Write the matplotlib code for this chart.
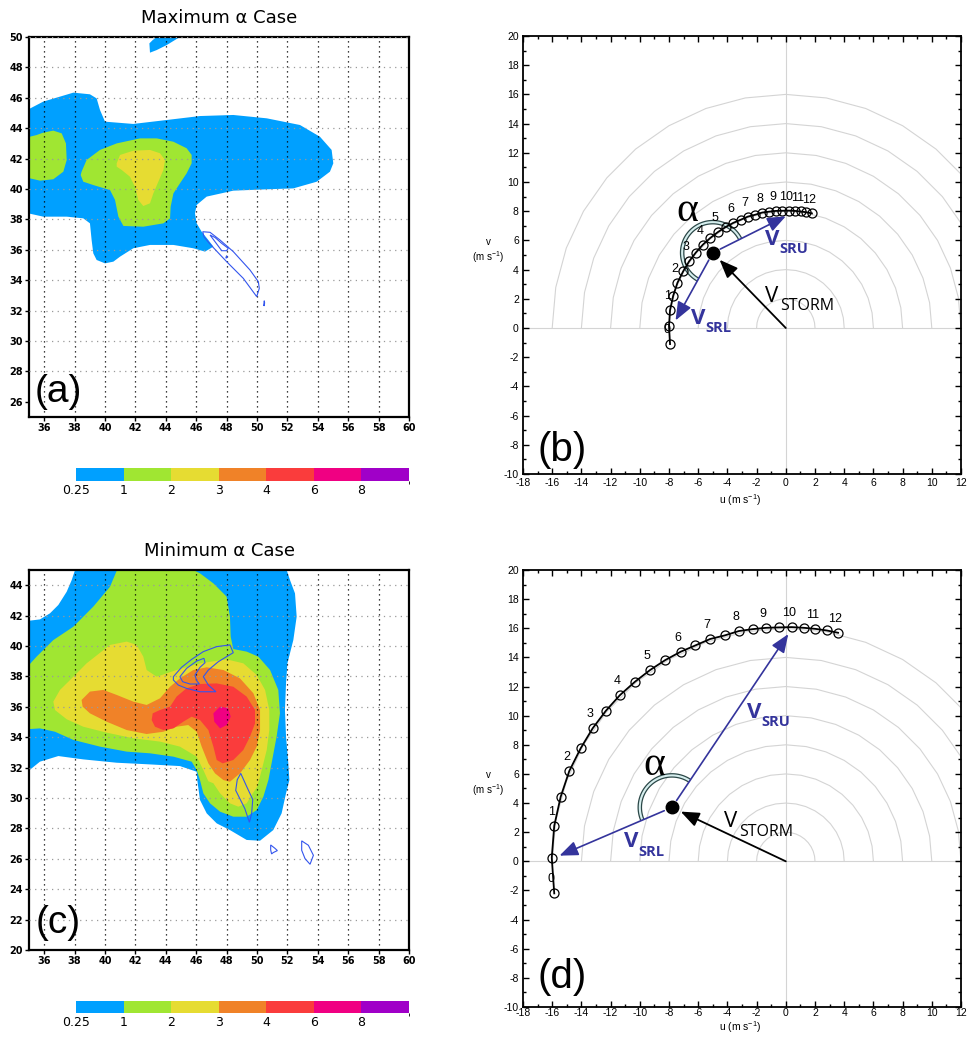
import numpy as np
import matplotlib
matplotlib.use('Agg')
import matplotlib.pyplot as plt
from matplotlib.patches import Polygon
from matplotlib.colors import ListedColormap, BoundaryNorm
from matplotlib.cm import ScalarMappable
from matplotlib.ticker import MultipleLocator

plt.rcParams['axes.unicode_minus'] = False
plt.rcParams['mathtext.default'] = 'regular'

# ---------------- colour scale ----------------
levels = [0.25, 1, 2, 3, 4, 6, 8, 10]
level_labels = ['0.25', '1', '2', '3', '4', '6', '8']
level_colors = ['#00A0FF', '#A0E632', '#E6DC32', '#F08228', '#FA3C3C', '#F00082', '#A000C8']

lon_ticks = list(range(36, 61, 2))
a_lat_ticks = list(range(26, 51, 2))
c_lat_ticks = list(range(20, 45, 2))

# ---------------- panel (a) shaded regions (lon, lat) ----------------
a_blue_lon = [34.5, 35.94, 37.92, 39.01, 39.45, 39.67, 40.0, 41.86, 44.06, 46.25, 48.44, 50.64, 52.83, 54.14,
              54.91, 55.02, 54.80, 53.93, 52.39, 50.64, 48.44, 46.69, 46.03, 45.92, 46.03, 46.36, 46.80, 47.13,
              46.58, 45.81, 44.50, 42.96, 41.86, 40.99, 40.55, 40.0, 39.45, 39.23, 39.12, 39.01, 38.57, 37.48,
              35.94, 34.5]
a_blue_lat = [45.0, 45.75, 46.34, 46.23, 45.96, 45.20, 44.43, 44.28, 44.54, 44.80, 44.87, 44.65, 44.21, 43.44,
              42.57, 41.69, 41.14, 40.48, 40.04, 39.98, 39.89, 39.50, 38.95, 38.40, 37.74, 37.19, 36.64, 36.21,
              35.88, 36.10, 36.32, 36.32, 36.10, 35.55, 35.22, 35.11, 35.33, 35.77, 36.64, 37.74, 38.07, 38.18,
              38.18, 38.5]
a_blue2_lon = [42.96, 42.92, 43.14, 43.40, 43.5, 45.2, 44.93, 44.06, 43.40]
a_blue2_lat = [48.97, 49.58, 49.80, 50.0, 50.6, 50.6, 50.0, 49.47, 49.14]
a_green1_lon = [34.5, 35.50, 35.94, 36.60, 37.15, 37.43, 37.48, 37.26, 36.60, 35.72, 35.07, 34.5]
a_green1_lat = [43.3, 43.55, 43.71, 43.84, 43.66, 43.0, 41.91, 41.14, 40.64, 40.55, 40.70, 40.7]
a_green2_lon = [38.46, 38.79, 39.67, 40.77, 42.30, 43.40, 44.50, 45.37, 45.70, 45.70, 45.37, 44.93, 44.50,
                44.32, 44.28, 43.84, 42.52, 41.21, 40.88, 40.66, 40.33, 39.23, 38.57, 38.40]
a_green2_lat = [41.14, 41.91, 42.57, 43.0, 43.33, 43.33, 43.11, 42.68, 42.24, 41.69, 41.03, 40.37, 39.71,
                38.84, 38.07, 37.74, 37.52, 37.57, 38.18, 39.28, 39.93, 40.26, 40.48, 40.92]
a_yellow_lon = [40.77, 40.99, 41.86, 42.96, 43.62, 43.95, 43.84, 43.51, 43.18, 42.96, 42.52, 42.19, 41.97,
                41.64, 41.10, 40.77]
a_yellow_lat = [41.69, 42.24, 42.52, 42.57, 42.35, 41.91, 41.25, 40.48, 39.71, 39.06, 38.88, 39.28, 40.15,
                40.81, 41.25, 41.47]
# contour lines (a)
a_line1_lon = [46.43, 46.91, 47.57, 48.44, 49.54, 50.09, 50.15, 49.98, 49.10, 48.00, 46.86, 46.51]
a_line1_lat = [37.19, 37.15, 36.64, 35.88, 34.67, 33.90, 33.46, 32.92, 34.12, 35.22, 36.43, 36.86]
a_line2_lon = [46.91, 47.24, 47.68, 48.0, 48.11, 47.68, 47.24]
a_line2_lat = [36.97, 36.53, 35.94, 35.94, 36.1, 36.42, 36.81]
a_line3_lon = [47.95, 48.05, 48.0]
a_line3_lat = [35.45, 35.5, 35.62]
a_line4_lon = [50.46, 50.5, 50.48, 50.46]
a_line4_lat = [32.3, 32.5, 32.65, 32.5]

# ---------------- panel (c) shaded regions ----------------
c_blue_lon = [38.1, 38.03, 37.81, 37.48, 36.93, 36.38, 35.72, 34.5, 34.5, 35.72, 36.93, 38.57, 40.77, 42.96,
              44.93, 46.03, 46.07, 46.25, 46.69, 47.35, 48.22, 49.32, 50.20, 51.07, 51.62, 51.91, 52.13, 52.06,
              51.91, 51.84, 51.91, 52.0, 52.39, 52.61, 52.50, 52.17, 51.95, 51.9]
c_blue_lat = [45.5, 45.0, 44.34, 43.57, 42.70, 42.15, 41.75, 41.6, 31.4, 32.39, 32.76, 32.54, 32.32, 32.21,
              32.10, 31.73, 31.18, 29.87, 28.99, 28.33, 27.89, 27.24, 27.19, 27.89, 28.99, 30.31, 31.18, 32.28,
              34.04, 35.79, 37.54, 38.86, 40.39, 41.93, 43.46, 44.34, 45.0, 45.5]
c_green_lon = [41.0, 40.33, 39.23, 37.92, 36.60, 35.50, 34.5, 34.5, 35.72, 36.71, 37.92, 39.67, 41.43, 42.96,
               44.50, 45.70, 46.03, 46.25, 46.47, 46.91, 47.57, 48.44, 49.32, 49.98, 50.42, 50.75, 50.96, 51.29,
               51.51, 51.40, 50.86, 50.09, 49.32, 48.44, 48.27, 48.22, 48.0, 47.13, 46.25, 45.81, 45.7]
c_green_lat = [45.5, 43.90, 42.59, 41.27, 40.39, 39.30, 38.2, 34.5, 34.58, 34.36, 33.82, 33.38, 33.05, 32.94,
               32.72, 32.39, 31.84, 31.18, 30.31, 29.65, 29.10, 28.77, 28.77, 29.21, 30.09, 31.18, 32.28, 34.04,
               35.57, 37.11, 38.42, 39.30, 39.63, 39.80, 40.61, 41.93, 43.25, 44.12, 44.78, 45.0, 45.5]
c_yellow_lon = [36.60, 37.04, 37.70, 38.79, 40.33, 41.43, 42.08, 42.52, 42.74, 43.40, 44.71, 46.25, 48.0,
                49.10, 49.98, 50.53, 50.81, 50.81, 50.64, 50.31, 50.02, 49.65, 49.32, 48.77, 48.22, 47.57, 47.13,
                46.8, 46.47, 46.03, 44.93, 43.62, 41.86, 40.11, 38.57, 37.48, 36.71]
c_yellow_lat = [36.34, 37.11, 37.76, 38.86, 40.07, 40.29, 40.07, 39.30, 38.42, 37.98, 38.42, 38.86, 39.12,
                38.86, 38.09, 37.11, 35.79, 34.47, 33.16, 31.84, 30.75, 30.20, 29.65, 29.43, 29.65, 30.31, 30.97,
                31.1, 31.84, 32.72, 33.38, 33.71, 33.93, 34.30, 34.69, 35.18, 35.79]
c_orange_lon = [38.46, 39.01, 39.89, 40.77, 41.86, 42.74, 43.62, 44.28, 44.93, 45.81, 46.69, 47.79, 48.88,
                49.76, 50.20, 50.20, 49.98, 49.54, 48.88, 48.22, 47.79, 47.24, 46.80, 46.36, 46.03, 45.48, 44.71,
                43.84, 42.74, 41.43, 40.11, 39.01, 38.53]
c_orange_lat = [36.45, 37.0, 37.11, 36.78, 36.34, 36.12, 36.56, 37.32, 37.87, 38.42, 38.60, 38.42, 37.87,
                36.89, 35.79, 34.47, 33.38, 32.50, 31.62, 31.07, 31.18, 31.62, 32.28, 33.38, 34.36, 34.80, 34.69,
                34.36, 34.21, 34.47, 35.02, 35.57, 36.01]
c_red_lon = [43.07, 43.14, 43.62, 44.28, 44.71, 45.37, 46.25, 47.35, 48.44, 49.32, 49.87, 49.87, 49.54, 49.10,
             48.44, 47.74, 47.35, 47.13, 46.80, 46.25, 45.70, 45.15, 44.50, 43.84, 43.29]
c_red_lat = [35.13, 35.57, 35.79, 36.01, 36.67, 37.22, 37.50, 37.54, 37.32, 36.67, 35.79, 34.91, 34.04, 33.16,
             32.50, 32.28, 32.50, 33.38, 34.47, 35.13, 35.35, 35.02, 34.58, 34.47, 34.69]
c_mag_lon = [47.13, 47.57, 48.11, 48.27, 48.0, 47.57, 47.19]
c_mag_lat = [35.57, 36.01, 35.90, 35.35, 34.80, 34.58, 35.02]
# contour lines (c)
c_line1_lon = [44.50, 45.04, 45.70, 46.47, 47.35, 48.22, 48.44, 48.0, 47.46, 46.80, 46.47, 46.80, 47.30, 46.25,
               45.37, 44.82, 44.50]
c_line1_lat = [37.98, 38.60, 39.12, 39.63, 39.96, 40.07, 39.56, 39.30, 38.97, 38.42, 37.98, 37.43, 36.99, 36.99,
               37.21, 37.43, 37.76]
c_line2_lon = [44.93, 45.37, 46.03, 46.51, 46.58, 46.25, 45.92, 46.03, 46.21, 45.59, 45.11]
c_line2_lat = [37.98, 38.53, 39.01, 39.19, 38.90, 38.60, 38.09, 37.72, 37.50, 37.50, 37.65]
c_line3_lon = [48.93, 49.3, 49.72, 49.65, 49.5, 49.2, 48.6, 48.7]
c_line3_lat = [31.62, 30.8, 29.9, 29.0, 28.4, 29.3, 30.5, 31.2]
c_line4_lon = [50.90, 51.18, 51.34, 51.07, 50.96, 50.90]
c_line4_lat = [26.91, 26.69, 26.54, 26.41, 26.32, 26.58]
c_line5_lon = [52.94, 53.38, 53.71, 53.49, 53.16, 52.94]
c_line5_lat = [27.18, 26.89, 26.23, 25.64, 26.01, 26.56]

# ---------------- hodographs ----------------
hgt_labels = list(range(13))          # km, one label every second point
b_u = [-7.93, -8.0, -7.93, -7.71, -7.42, -7.03, -6.62, -6.16, -5.68, -5.17, -4.65, -4.13, -3.6, -3.1, -2.6,
       -2.09, -1.61, -1.14, -0.68, -0.24, 0.2, 0.63, 1.01, 1.4, 1.79]
b_v = [-1.1, 0.13, 1.22, 2.22, 3.1, 3.88, 4.57, 5.17, 5.71, 6.17, 6.57, 6.91, 7.2, 7.41, 7.63, 7.76, 7.91,
       7.97, 8.02, 8.03, 8.04, 8.02, 7.98, 7.93, 7.85]
d_u = [-15.86, -16.03, -15.86, -15.42, -14.83, -14.05, -13.23, -12.32, -11.36, -10.33, -9.30, -8.25, -7.20,
       -6.20, -5.19, -4.18, -3.21, -2.27, -1.36, -0.47, 0.40, 1.25, 2.02, 2.80, 3.58]
d_v = [-2.20, 0.25, 2.44, 4.43, 6.20, 7.76, 9.13, 10.34, 11.41, 12.33, 13.13, 13.82, 14.39, 14.82, 15.26,
       15.51, 15.81, 15.94, 16.03, 16.06, 16.08, 16.03, 15.96, 15.85, 15.69]
b_storm = (-5.0, 5.15)
b_sru_tip = (0.0, 7.65)
b_srl_tip = (-7.55, 0.52)
d_storm = (-7.8, 3.7)
d_sru_tip = (0.17, 15.6)
d_srl_tip = (-15.5, 0.39)
ring_radii = [2, 4, 6, 8, 10, 12, 14, 16]

BLUE = '#34349C'

fig = plt.figure(figsize=(9.68, 10.38), dpi=100)


def map_panel(rect, ylo, yhi, yticks, regions, lines, title, tag, tagy):
    ax = fig.add_axes(rect)
    for lon, lat, k in regions:
        ax.add_patch(Polygon(np.column_stack([lon, lat]), closed=True, facecolor=level_colors[k],
                             edgecolor='none', zorder=1))
    for lon, lat in lines:
        ax.add_patch(Polygon(np.column_stack([lon, lat]), closed=True, fill=False, edgecolor='#3355EE',
                             lw=0.8, zorder=4))
    for x in lon_ticks[:-1]:
        ax.axvline(x, color='black', lw=0.9, ls=(0, (1, 3)), zorder=3)
    for y in yticks[1:]:
        ax.axhline(y, color='#9A9A9A', lw=0.9, ls=(0, (1, 3.5)), zorder=3)
    ax.set_xlim(35, 60)
    ax.set_ylim(ylo, yhi)
    ax.set_xticks(lon_ticks)
    ax.set_yticks(yticks)
    ax.tick_params(direction='out', length=3, width=1, pad=1.5, labelsize=7)
    for lab in ax.get_xticklabels() + ax.get_yticklabels():
        lab.set_fontweight('bold')
    for s in ax.spines.values():
        s.set_linewidth(1.6)
    ax.text(0.5, 1.05, title, transform=ax.transAxes, ha='center', va='center', fontsize=13,
            family='DejaVu Sans')
    ax.text(0.077, tagy, tag, transform=ax.transAxes, ha='center', va='center', fontsize=28,
            family='Liberation Sans', zorder=6)
    return ax


def colorbar(rect):
    cax = fig.add_axes(rect)
    cmap = ListedColormap(level_colors)
    norm = BoundaryNorm(levels, cmap.N)
    cb = fig.colorbar(ScalarMappable(norm=norm, cmap=cmap), cax=cax, orientation='horizontal',
                      spacing='uniform', ticks=levels[:-1])
    cb.set_ticklabels(level_labels)
    cb.outline.set_visible(False)
    cax.tick_params(length=0, pad=2, labelsize=9)


def vlabel(ax, pos, sub, color, size, subsize, weight):
    ax.text(pos[0], pos[1], 'V', color=color, fontsize=size, fontweight=weight, family='Open Sans',
            ha='left', va='baseline', zorder=8)
    ax.annotate(sub, pos, xytext=(10.6, -6), textcoords='offset points', color=color, fontsize=subsize,
                fontweight=weight, family='Open Sans', ha='left', va='baseline', zorder=8)


def hodo_panel(rect, u, v, storm, sru, srl, arc_r, alpha_pos, sru_pos, srl_pos, storm_pos, tag, tagy,
               xpad, xlab_y):
    ax = fig.add_axes(rect)
    ax.set_xlim(-18, 12)
    ax.set_ylim(-10, 20)
    th = np.deg2rad(np.arange(0, 181, 10))
    for r in ring_radii:
        ax.plot(r * np.cos(th), r * np.sin(th), color='#D4D4D4', lw=0.8, zorder=1)
    ax.axhline(0, color='#D4D4D4', lw=0.8, zorder=1)
    ax.axvline(0, color='#D4D4D4', lw=0.8, zorder=1)
    # alpha arc
    a1 = np.degrees(np.arctan2(sru[1] - storm[1], sru[0] - storm[0]))
    a2 = np.degrees(np.arctan2(srl[1] - storm[1], srl[0] - storm[0]))
    if a2 < a1:
        a2 += 360
    t = np.deg2rad(np.linspace(a1, a2, 80))
    ax.plot(storm[0] + arc_r * np.cos(t), storm[1] + arc_r * np.sin(t), color='#2B4747', lw=3.3,
            solid_capstyle='butt', zorder=3)
    ax.plot(storm[0] + arc_r * np.cos(t), storm[1] + arc_r * np.sin(t), color='#D6EEEE', lw=1.5,
            solid_capstyle='butt', zorder=3.1)
    # hodograph
    ax.plot(u, v, '-', color='black', lw=1.3, zorder=5)
    ax.plot(u, v, 'o', mfc='none', mec='black', ms=6.5, mew=0.9, zorder=5)
    for k in hgt_labels:
        ax.annotate(str(k), (u[2 * k], v[2 * k]), xytext=(-2, 10), textcoords='offset points', ha='center',
                    va='center', fontsize=9, family='Liberation Sans', zorder=6)
    # arrows
    head = '-|>,head_length=0.8,head_width=0.32'
    ax.annotate('', xy=storm, xytext=(0, 0),
                arrowprops=dict(arrowstyle=head, mutation_scale=14, color='black', lw=1.3, shrinkA=0,
                                shrinkB=7), zorder=6)
    for tip in (sru, srl):
        ax.annotate('', xy=tip, xytext=storm,
                    arrowprops=dict(arrowstyle=head, mutation_scale=14, color=BLUE, lw=1.2, shrinkA=6,
                                    shrinkB=0), zorder=6)
    ax.plot(storm[0], storm[1], 'o', color='black', ms=9, zorder=7)
    ax.text(alpha_pos[0], alpha_pos[1], '\u03b1', fontsize=30, family='Liberation Serif', ha='center',
            va='center', zorder=8)
    vlabel(ax, sru_pos, 'SRU', BLUE, 16, 10.5, 'bold')
    vlabel(ax, srl_pos, 'SRL', BLUE, 16, 10.5, 'bold')
    vlabel(ax, storm_pos, 'STORM', 'black', 16, 11.5, 'normal')
    # axes cosmetics
    ax.set_xticks(range(-18, 13, 2))
    ax.set_yticks(range(-10, 21, 2))
    ax.xaxis.set_minor_locator(MultipleLocator(1))
    ax.yaxis.set_minor_locator(MultipleLocator(1))
    ax.tick_params(which='both', direction='in', top=True, right=True, width=1)
    ax.tick_params(which='major', length=4, labelsize=7.5, pad=3)
    ax.tick_params(axis='x', which='major', pad=xpad)
    ax.tick_params(which='minor', length=2)
    for lab in ax.get_xticklabels() + ax.get_yticklabels():
        lab.set_family('Liberation Sans')
    for s in ax.spines.values():
        s.set_linewidth(1.3)
    ax.text(-0.08, 0.51, 'v\n(m s$^{-1}$)', transform=ax.transAxes, ha='center', va='center', fontsize=7,
            family='Liberation Sans', linespacing=1.2)
    ax.text(0.495, xlab_y, 'u (m s$^{-1}$)', transform=ax.transAxes, ha='center', va='center',
            fontsize=7.5, family='Liberation Sans')
    ax.text(0.09, tagy, tag, transform=ax.transAxes, ha='center', va='center', fontsize=29,
            family='Liberation Sans', zorder=8)
    return ax


# panel (a)
map_panel([29 / 968, 1 - 417 / 1038, 380 / 968, 380 / 1038], 25, 50, a_lat_ticks,
          [(a_blue_lon, a_blue_lat, 0), (a_blue2_lon, a_blue2_lat, 0), (a_green1_lon, a_green1_lat, 1),
           (a_green2_lon, a_green2_lat, 1), (a_yellow_lon, a_yellow_lat, 2)],
          [(a_line1_lon, a_line1_lat), (a_line2_lon, a_line2_lat), (a_line3_lon, a_line3_lat),
           (a_line4_lon, a_line4_lat)],
          'Maximum \u03b1 Case', '(a)', 0.066)
colorbar([76 / 968, 1 - 481 / 1038, 333 / 968, 13 / 1038])

# panel (c)
map_panel([29 / 968, 1 - 950 / 1038, 380 / 968, 380 / 1038], 20, 45, c_lat_ticks,
          [(c_blue_lon, c_blue_lat, 0), (c_green_lon, c_green_lat, 1), (c_yellow_lon, c_yellow_lat, 2),
           (c_orange_lon, c_orange_lat, 3), (c_red_lon, c_red_lat, 4), (c_mag_lon, c_mag_lat, 5)],
          [(c_line1_lon, c_line1_lat), (c_line2_lon, c_line2_lat), (c_line3_lon, c_line3_lat),
           (c_line4_lon, c_line4_lat), (c_line5_lon, c_line5_lat)],
          'Minimum \u03b1 Case', '(c)', 0.071)
colorbar([76 / 968, 1 - 1013 / 1038, 333 / 968, 12.5 / 1038])

# panel (b)
hodo_panel([523 / 968, 1 - 474 / 1038, 438 / 968, 438 / 1038], b_u, b_v, b_storm, b_sru_tip, b_srl_tip, 2.1,
           (-6.72, 8.03), (-1.42, 5.68), (-6.51, 0.27), (-1.42, 1.8), '(b)', 0.055, 3, -0.06)
# panel (d)
hodo_panel([523 / 968, 1 - 1007 / 1038, 438 / 968, 437 / 1038], d_u, d_v, d_storm, d_sru_tip, d_srl_tip, 2.2,
           (-9.04, 6.61), (-2.68, 9.84), (-11.08, 0.96), (-4.23, 2.33), '(d)', 0.069, 0.5, -0.045)

fig.savefig('out.png', dpi=100)
